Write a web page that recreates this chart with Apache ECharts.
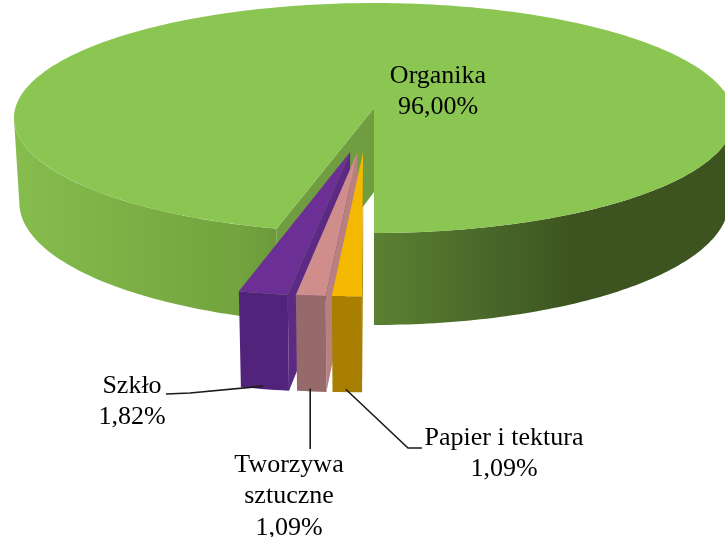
<!DOCTYPE html>
<html>
<head>
<meta charset="utf-8">
<style>
  html, body { margin: 0; padding: 0; background: #fff; }
  #main { width: 725px; height: 537px; }
</style>
<script src="https://cdn.jsdelivr.net/npm/echarts@6/dist/echarts.min.js"></script>
</head>
<body>
<div id="main"></div>
<script>
// dane z wykresu
const categories = ['Organika', 'Szkło', 'Tworzywa sztuczne', 'Papier i tektura'];
const values = [96.00, 1.82, 1.09, 1.09];
const labelLines = [['Organika'], ['Szkło'], ['Tworzywa', 'sztuczne'], ['Papier i tektura']];

// kolory: wierzch, front, sciana boczna
const topColors = ['#8bc552', '#6b2f96', '#cf8e8c', '#f5b800'];
const frontColors = ['#6f9d40', '#52237a', '#966a6a', '#a87f00'];
const wallColors = ['#6f9d40', '#5c2a84', '#b98080', '#a87f00'];

// rzut perspektywiczny dysku
const cx = 374, W = 358.7, A = 104.7, B = 108, P = 0.087, H = 84, SHRINK = 0.015;
// wysuniecie wycinkow
const EXPLODE_Y = 0.373, EXPLODE_X0 = 0.022, EXPLODE_X1 = 0.22, SLICE_R = 1.07;

// polozenie etykiet: srodek tekstu, y pierwszej linii
const labelPos = [[438, 76], [132, 386], [289, 465], [504, 438]];
const lineHeight = 31.5;
// punkty linii odniesienia (start liczony z wycinka, null = ten sam x co start)
const leaderPts = [null, [[190, 393], [166, 394]], [[null, 449]], [[408, 448], [422, 448]]];

const toRad = d => d * Math.PI / 180;

const project = (X, Y, z) => {
    const den = 1 - P * Y;
    return [
        cx + W * X / den * (1 - SHRINK * z),
        (A * Y + B) / den + H * z / den
    ];
};

const rimPoint = (t, r, ox, oy, z) => project(ox - Math.sin(toRad(t)) * r, oy + Math.cos(toRad(t)) * r, z);

const arc = (a0, a1, r, ox, oy, z) => {
    const pts = [];
    const n = Math.max(2, Math.ceil(Math.abs(a1 - a0)));
    for (let i = 0; i <= n; i++) {
        pts.push(rimPoint(a0 + (a1 - a0) * i / n, r, ox, oy, z));
    }
    return pts;
};

const poly = (points, fill) => ({
    type: 'polygon',
    shape: { points },
    style: { fill, stroke: null }
});

const wallBand = (a0, a1, ox, oy, r, fill) => {
    const upper = arc(a0, a1, r, ox, oy, 0);
    const lower = arc(a0, a1, r, ox, oy, 1).reverse();
    return poly(upper.concat(lower), fill);
};

// katy liczone od godz. 6 zgodnie ze wskazowkami, malejaco od 360
const angles = [];
let acc = 360;
values.forEach(v => {
    const a1 = acc;
    const a0 = acc - v * 3.6;
    angles.push([a0, a1]);
    acc = a0;
});

const sideGradient = new echarts.graphic.LinearGradient(13, 0, 725, 0, [
    { offset: 0, color: '#86bd4d' },
    { offset: 0.32, color: '#72a33e' },
    { offset: 0.5, color: '#5c8232' },
    { offset: 0.65, color: '#4a6a2a' },
    { offset: 0.79, color: '#3d5420' },
    { offset: 1, color: '#3d5420' }
], true);

const renderLabel = (i, value) => {
    const lines = labelLines[i].concat([value.toFixed(2).replace('.', ',') + '%']);
    return lines.map((text, k) => ({
        type: 'text',
        z2: 50,
        style: {
            text,
            x: labelPos[i][0],
            y: labelPos[i][1] + k * lineHeight,
            align: 'center',
            verticalAlign: 'middle',
            fill: '#000',
            font: '26px "Liberation Serif"'
        }
    }));
};

const renderItem = (params, api) => {
    const i = params.dataIndex;
    const [a0, a1] = angles[i];
    const children = [];

    if (i === 0) {
        // duzy wycinek
        const apex = project(0, 0, 0);
        const rim = rimPoint(a0, 1, 0, 0, 0);
        children.push(wallBand(a0, 85, 0, 0, 1, sideGradient));
        children.push(wallBand(275, a1, 0, 0, 1, sideGradient));
        children.push(poly([apex, rim, rimPoint(a0, 1, 0, 0, 1), project(0, 0, 1)], wallColors[i]));
        children.push(poly([apex].concat(arc(a0, a1, 1, 0, 0, 0)), topColors[i]));
    } else {
        const mid = (a0 + a1) / 2;
        const ox = -(EXPLODE_X0 + EXPLODE_X1 * Math.sin(toRad(mid)));
        const oy = EXPLODE_Y;
        const apex = project(ox, oy, 0);
        children.push(poly([apex, rimPoint(a0, SLICE_R, ox, oy, 0), rimPoint(a0, SLICE_R, ox, oy, 1), project(ox, oy, 1)], wallColors[i]));
        children.push(wallBand(a0, a1, ox, oy, SLICE_R, frontColors[i]));
        children.push(poly([apex].concat(arc(a0, a1, SLICE_R, ox, oy, 0)), topColors[i]));

        // linia odniesienia
        const end = rimPoint(mid, SLICE_R, ox, oy, 1);
        const start = [end[0] - 1.5, end[1] - 3];
        const rest = leaderPts[i].map(p => [p[0] === null ? start[0] : p[0], p[1]]);
        children.push({
            type: 'polyline',
            z2: 40,
            shape: { points: [start].concat(rest) },
            style: { stroke: '#1a1a1a', lineWidth: 1.6, fill: null }
        });
    }
    return { type: 'group', children: children.concat(renderLabel(i, api.value(0))) };
};

const chart = echarts.init(document.getElementById('main'));
chart.setOption({
    backgroundColor: '#fff',
    animation: false,
    series: [{
        type: 'custom',
        coordinateSystem: 'none',
        silent: true,
        renderItem,
        data: categories.map((name, i) => ({ name, value: [values[i]] }))
    }]
});
</script>
</body>
</html>
